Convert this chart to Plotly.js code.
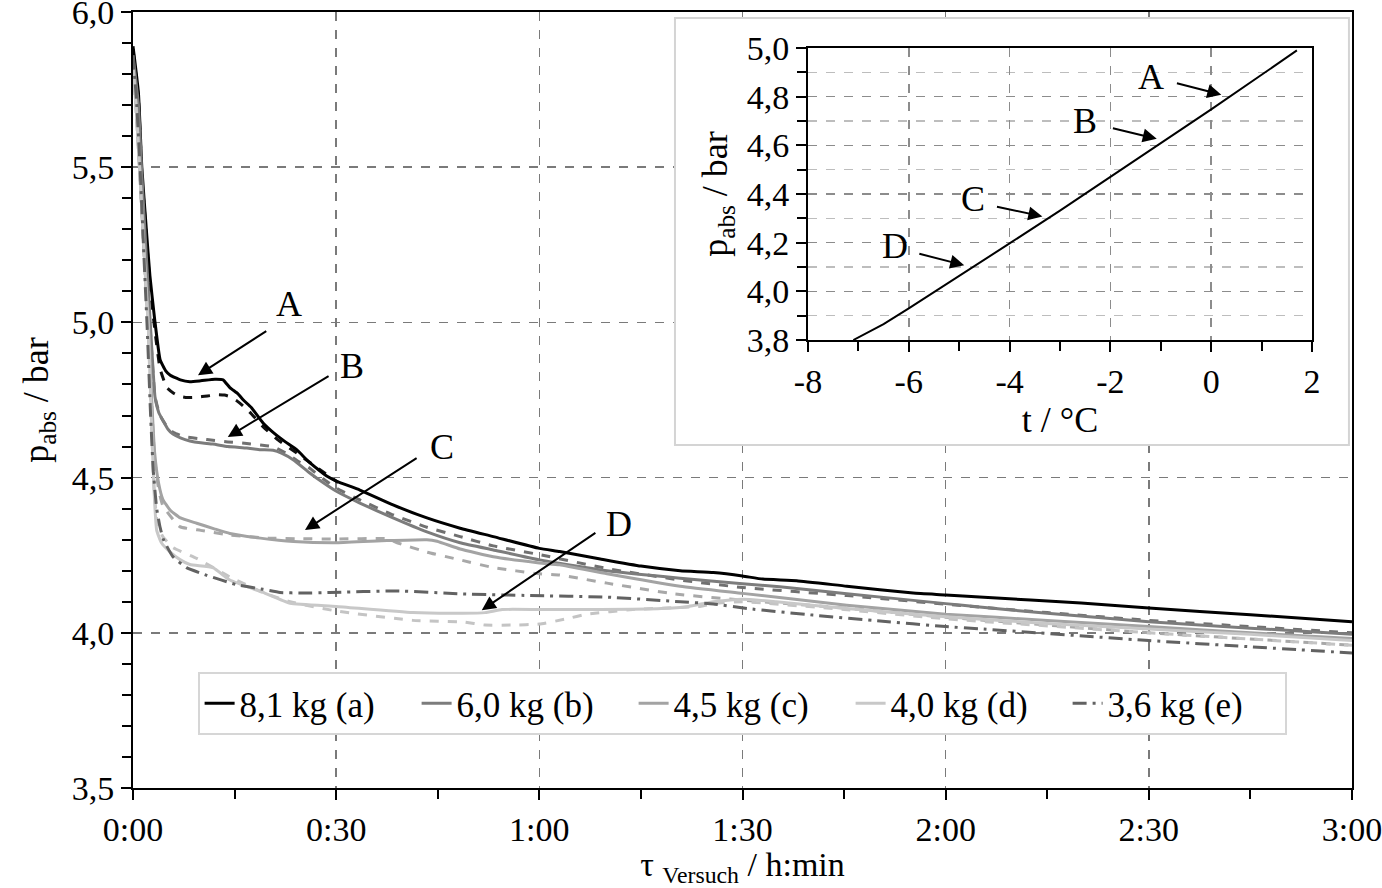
<!DOCTYPE html>
<html>
<head>
<meta charset="utf-8">
<script src="https://cdn.plot.ly/plotly-3.0.1.min.js"></script>
<style>html,body{margin:0;padding:0;background:#fff;}#chart{width:1382px;height:888px;}</style>
</head>
<body>
<div id="chart"></div>
<script>
// ---- data (time in minutes, pressure in bar) ----
const tickMinutes = [0, 30, 60, 90, 120, 150, 180];
const tickLabels = ['0:00', '0:30', '1:00', '1:30', '2:00', '2:30', '3:00'];
const minorMinutes = [15, 45, 75, 105, 135, 165];
const pTicks = [3.5, 4.0, 4.5, 5.0, 5.5, 6.0];
const pTickLabels = ['3,5', '4,0', '4,5', '5,0', '5,5', '6,0'];
const insetTTicks = [-8, -6, -4, -2, 0, 2];
const insetTTickLabels = ['-8', '-6', '-4', '-2', '0', '2'];
const insetPTicks = [3.8, 4.0, 4.2, 4.4, 4.6, 4.8, 5.0];
const insetPTickLabels = ['3,8', '4,0', '4,2', '4,4', '4,6', '4,8', '5,0'];

const seriesNames = ['8,1 kg (a)', '6,0 kg (b)', '4,5 kg (c)', '4,0 kg (d)', '3,6 kg (e)'];

const tA = [0, 0.8, 1.3, 2.0, 2.5, 3.2, 4.0, 4.8, 5.5, 7, 8.4, 10, 12.1, 13.3, 14.3, 15.5, 16.3, 17.5, 19.2, 21, 22.5, 24.2, 26, 28.6, 30.1, 33.5, 38.4, 43.4, 48.3, 53.2, 60, 63, 69, 75, 80.8, 85.7, 90, 93, 98, 105.4, 115.2, 120, 125, 140, 150, 165, 180];
const pA = [5.89, 5.74, 5.50, 5.29, 5.15, 5.01, 4.88, 4.845, 4.83, 4.815, 4.809, 4.812, 4.817, 4.815, 4.79, 4.77, 4.75, 4.725, 4.676, 4.64, 4.615, 4.589, 4.55, 4.505, 4.488, 4.46, 4.412, 4.37, 4.337, 4.31, 4.272, 4.262, 4.238, 4.215, 4.20, 4.194, 4.183, 4.173, 4.168, 4.15, 4.128, 4.122, 4.115, 4.096, 4.08, 4.058, 4.036];

const tA2 = [0, 0.8, 1.3, 2.0, 2.5, 3.2, 4.0, 5, 6, 6.9, 8, 9.4, 11, 12.4, 13.5, 14.3, 15.3, 16.3, 17.5, 19.2, 21.5, 24.2, 27, 30.3];
const pA2 = [5.88, 5.72, 5.48, 5.27, 5.12, 4.98, 4.85, 4.79, 4.772, 4.762, 4.758, 4.759, 4.763, 4.767, 4.766, 4.761, 4.748, 4.73, 4.705, 4.664, 4.62, 4.579, 4.535, 4.484];

const tB = [0, 0.8, 1.3, 2.0, 2.6, 3.25, 3.8, 4.4, 5.2, 5.9, 7, 8.4, 10, 11.8, 14, 16.8, 18.8, 20.7, 22, 23.7, 26.1, 28, 30.1, 33.5, 38.4, 43.4, 48.3, 53.2, 60, 70, 80.8, 90, 95.5, 105.4, 120, 125, 135, 150, 165, 180];
const pB = [5.86, 5.70, 5.48, 5.20, 4.98, 4.76, 4.71, 4.685, 4.655, 4.64, 4.628, 4.618, 4.612, 4.608, 4.60, 4.595, 4.59, 4.588, 4.578, 4.557, 4.515, 4.485, 4.455, 4.418, 4.37, 4.325, 4.29, 4.267, 4.235, 4.20, 4.176, 4.158, 4.148, 4.126, 4.094, 4.083, 4.063, 4.036, 4.015, 3.995];

const tB2 = [0, 0.8, 1.3, 2.0, 2.6, 3.25, 4, 5, 6, 7.5, 10, 11.8, 14, 16.8, 18.8, 20.7, 22.5, 24.2, 26.1, 28, 30.1, 33.5, 38.4, 43.4, 48.3, 53.2, 60, 70, 80.8, 90, 105.4, 120, 135, 150, 165, 180];
const pB2 = [5.85, 5.68, 5.46, 5.18, 4.96, 4.76, 4.70, 4.665, 4.645, 4.632, 4.625, 4.62, 4.615, 4.61, 4.605, 4.60, 4.58, 4.555, 4.53, 4.497, 4.465, 4.428, 4.38, 4.34, 4.31, 4.28, 4.252, 4.207, 4.17, 4.146, 4.12, 4.092, 4.065, 4.04, 4.02, 4.00];

const tC = [0, 0.5, 1.0, 1.77, 2.27, 2.7, 3.2, 3.8, 4.4, 5.5, 7, 9.4, 12, 14.3, 18.8, 23.7, 30.1, 37.5, 43.4, 44.9, 48.3, 53.2, 60, 63, 70, 80.8, 90, 105.4, 120, 135, 150, 165, 180];
const pC = [5.84, 5.70, 5.50, 5.18, 5.01, 4.78, 4.58, 4.48, 4.43, 4.395, 4.37, 4.353, 4.335, 4.32, 4.305, 4.294, 4.29, 4.297, 4.30, 4.295, 4.27, 4.245, 4.225, 4.219, 4.19, 4.15, 4.127, 4.089, 4.06, 4.04, 4.02, 4.00, 3.982];

const tC2 = [0, 0.5, 1.0, 1.77, 2.27, 2.7, 3.2, 3.8, 4.4, 6.9, 10, 14.3, 20, 25, 30, 37.5, 39, 43.4, 48.3, 53.2, 60, 63, 70, 80, 90, 105, 120, 135, 150, 165, 180];
const pC2 = [5.83, 5.68, 5.48, 5.16, 4.99, 4.76, 4.56, 4.46, 4.41, 4.342, 4.33, 4.315, 4.305, 4.303, 4.302, 4.303, 4.29, 4.26, 4.235, 4.21, 4.19, 4.186, 4.16, 4.125, 4.105, 4.08, 4.05, 4.025, 4.0, 3.98, 3.96];

const tD = [0, 0.5, 1.0, 1.77, 2.27, 2.7, 3.1, 3.5, 4.2, 5.5, 7, 8.4, 11.8, 14.3, 19.2, 23.2, 30, 41.3, 48.7, 52, 54.5, 60, 69, 78, 82, 85.7, 90, 95, 105.4, 120, 135, 150, 165, 180];
const pD = [5.83, 5.68, 5.49, 5.17, 4.98, 4.70, 4.46, 4.33, 4.29, 4.26, 4.235, 4.22, 4.21, 4.17, 4.13, 4.095, 4.085, 4.065, 4.063, 4.065, 4.075, 4.075, 4.075, 4.078, 4.085, 4.10, 4.108, 4.10, 4.078, 4.052, 4.03, 4.012, 3.995, 3.975];

const tD2 = [0, 0.5, 1.0, 1.77, 2.27, 2.7, 3.1, 3.6, 4.4, 5.9, 9.4, 14.3, 19.2, 23.2, 30.1, 41.3, 48.7, 52, 56, 60, 64, 67, 73.8, 83.7, 86, 90, 105, 120, 150, 180];
const pD2 = [5.82, 5.66, 5.47, 5.15, 4.96, 4.69, 4.47, 4.35, 4.31, 4.275, 4.24, 4.18, 4.13, 4.10, 4.07, 4.04, 4.035, 4.025, 4.025, 4.028, 4.045, 4.06, 4.075, 4.085, 4.095, 4.10, 4.075, 4.045, 4.0, 3.96];

const tE = [0, 0.5, 1.0, 1.6, 2.1, 2.6, 3.0, 3.5, 4.0, 4.5, 5.9, 7.9, 10.9, 15.3, 19.2, 21.7, 25, 29, 39, 48.7, 58.6, 70, 80.8, 85.7, 90.8, 100.4, 110.3, 120, 125, 150, 165, 180];
const pE = [5.86, 5.72, 5.52, 5.22, 4.98, 4.70, 4.52, 4.40, 4.34, 4.30, 4.245, 4.21, 4.185, 4.155, 4.14, 4.13, 4.128, 4.13, 4.135, 4.125, 4.12, 4.115, 4.10, 4.093, 4.078, 4.057, 4.038, 4.02, 4.013, 3.975, 3.955, 3.935];

// inset: saturation pressure vs temperature
const tSat = [-7.1, -6.5, -6, -5, -4, -3, -2, -1, 0, 1, 1.7];
const pSat = [3.80, 3.865, 3.93, 4.062, 4.197, 4.332, 4.47, 4.61, 4.748, 4.89, 4.99];

// labels A-D: [tip x, tip y, tail x, tail y, text x, text y]
const labelNames = ['A', 'B', 'C', 'D'];
const mainLabelPos = [
  [9.6, 4.83, 19.9, 4.975, 23.0, 5.06],
  [14.0, 4.631, 29.1, 4.83, 32.3, 4.86],
  [25.4, 4.331, 42.1, 4.566, 45.6, 4.60],
  [51.5, 4.073, 68.5, 4.325, 71.8, 4.35]
];
const insetLabelPos = [
  [0.2, 4.808, -0.71, 4.857, -1.19, 4.88],
  [-1.08, 4.627, -1.98, 4.672, -2.5, 4.70],
  [-3.35, 4.308, -4.28, 4.349, -4.73, 4.38],
  [-4.9, 4.107, -5.82, 4.156, -6.28, 4.185]
];

// ---- styles ----
const FONT = 'Liberation Serif, Times New Roman, serif';
const TICK = 34;
const lineW = 3;
const traces = [];
function addLine(x, y, name, color, dash, show) {
  traces.push({x: x, y: y, name: name, type: 'scatter', mode: 'lines',
    line: {color: color, width: lineW, dash: dash, shape: 'spline', smoothing: 0.4},
    showlegend: show, hoverinfo: 'skip', xaxis: 'x', yaxis: 'y'});
}
addLine(tA2, pA2, 'a2', '#111111', 'dash', false);
addLine(tB2, pB2, 'b2', '#707070', 'dash', false);
addLine(tC2, pC2, 'c2', '#a8a8a8', 'dash', false);
addLine(tD2, pD2, 'd2', '#c4c4c4', 'dash', false);
addLine(tA, pA, seriesNames[0], '#000000', 'solid', true);
addLine(tB, pB, seriesNames[1], '#7c7c7c', 'solid', true);
addLine(tC, pC, seriesNames[2], '#a3a3a3', 'solid', true);
addLine(tD, pD, seriesNames[3], '#c8c8c8', 'solid', true);
addLine(tE, pE, seriesNames[4], '#626262', '14px,6px,3px,6px', true);

// box backdrop subplot (empty)
traces.push({x: [0], y: [0], type: 'scatter', mode: 'markers', marker: {opacity: 0},
  showlegend: false, hoverinfo: 'skip', xaxis: 'x2', yaxis: 'y2'});
// inset
traces.push({x: tSat, y: pSat, type: 'scatter', mode: 'lines', line: {color: '#000', width: 2},
  showlegend: false, hoverinfo: 'skip', xaxis: 'x3', yaxis: 'y3'});

const annotations = [];
function addLabels(pos, xr, yr) {
  pos.forEach(function (p, i) {
    annotations.push({xref: xr, yref: yr, axref: xr, ayref: yr, x: p[0], y: p[1], ax: p[2], ay: p[3],
      text: '', showarrow: true, arrowhead: 2, arrowsize: 1.4, arrowwidth: 2, arrowcolor: '#000', standoff: 0});
    annotations.push({xref: xr, yref: yr, x: p[4], y: p[5], text: labelNames[i], showarrow: false,
      font: {family: FONT, size: 36, color: '#000'}});
  });
}
addLabels(mainLabelPos, 'x', 'y');
addLabels(insetLabelPos, 'x3', 'y3');

const axisCommon = {showline: true, linewidth: 2, linecolor: '#000', mirror: true, zeroline: false,
  ticks: 'outside', tickwidth: 2, tickcolor: '#000', ticklabeloverflow: 'allow',
  tickfont: {family: FONT, size: TICK, color: '#000'}};

const layout = {
  width: 1382, height: 888,
  margin: {l: 133, r: 30, t: 12, b: 100},
  paper_bgcolor: '#fff', plot_bgcolor: '#fff',
  separators: ',.',
  font: {family: FONT, color: '#000', size: 32},
  showlegend: true,
  legend: {orientation: 'h', x: 0.053, y: 0.1495, xanchor: 'left', yanchor: 'top',
    bgcolor: '#fff', bordercolor: '#d6d6d6', borderwidth: 2,
    font: {family: FONT, size: 35, color: '#000'}, itemwidth: 30, traceorder: 'normal',
    entrywidth: 172, entrywidthmode: 'pixels'},
  xaxis: Object.assign({}, axisCommon, {
    domain: [0, 1], range: [0, 180], tickmode: 'array', tickvals: tickMinutes, ticktext: tickLabels,
    ticklen: 10, showgrid: true, gridcolor: '#7a7a7a', gridwidth: 1.5, griddash: 'dash',
    minor: {tickmode: 'array', tickvals: minorMinutes, ticks: 'outside', ticklen: 9, tickwidth: 2, tickcolor: '#000', showgrid: false},
    title: {text: 'τ <sub>Versuch</sub> / h:min', font: {family: FONT, size: 34}, standoff: 4}
  }),
  yaxis: Object.assign({}, axisCommon, {
    domain: [0, 1], range: [3.5, 6.0], tickmode: 'array', tickvals: pTicks, ticktext: pTickLabels,
    ticklen: 10, showgrid: true, gridcolor: '#7a7a7a', gridwidth: 1.5, griddash: 'dash',
    minor: {tick0: 3.5, dtick: 0.1, ticks: 'outside', ticklen: 9, tickwidth: 2, tickcolor: '#000', showgrid: false},
    title: {text: 'p<sub>abs</sub> / bar', font: {family: FONT, size: 36}, standoff: 12}
  }),
  xaxis2: {domain: [0.4446, 0.9975], range: [0, 1], visible: false, anchor: 'y2'},
  yaxis2: {domain: [0.442, 0.9923], range: [0, 1], visible: false, anchor: 'x2'},
  xaxis3: Object.assign({}, axisCommon, {
    domain: [0.5537, 0.9672], range: [-8, 2], tickmode: 'array', tickvals: insetTTicks, ticktext: insetTTickLabels,
    anchor: 'y3', ticklen: 10,
    showgrid: true, gridcolor: '#8c8c8c', gridwidth: 1.5, griddash: 'dash',
    minor: {tick0: -8, dtick: 1, ticks: 'outside', ticklen: 9, tickwidth: 2, tickcolor: '#000', showgrid: false},
    title: {text: 't / °C', font: {family: FONT, size: 36}, standoff: 4}
  }),
  yaxis3: Object.assign({}, axisCommon, {
    domain: [0.5773, 0.9536], range: [3.8, 5.0], tickmode: 'array', tickvals: insetPTicks, ticktext: insetPTickLabels,
    anchor: 'x3', ticklen: 10,
    showgrid: true, gridcolor: '#8c8c8c', gridwidth: 1.5, griddash: 'dash',
    minor: {tick0: 3.8, dtick: 0.1, ticks: 'outside', ticklen: 9, tickwidth: 2, tickcolor: '#000',
      showgrid: true, gridcolor: '#bdbdbd', gridwidth: 1.5, griddash: 'dash'},
    title: {text: 'p<sub>abs</sub> / bar', font: {family: FONT, size: 36}, standoff: 8}
  }),
  shapes: [
    {type: 'rect', xref: 'paper', yref: 'paper', x0: 0.4446, x1: 0.9975, y0: 0.442, y1: 0.9923,
      line: {color: '#d4d4d4', width: 2}, fillcolor: 'rgba(0,0,0,0)', layer: 'above'}
  ],
  annotations: annotations
};

Plotly.newPlot('chart', traces, layout, {staticPlot: true, displayModeBar: false});
</script>
</body>
</html>
